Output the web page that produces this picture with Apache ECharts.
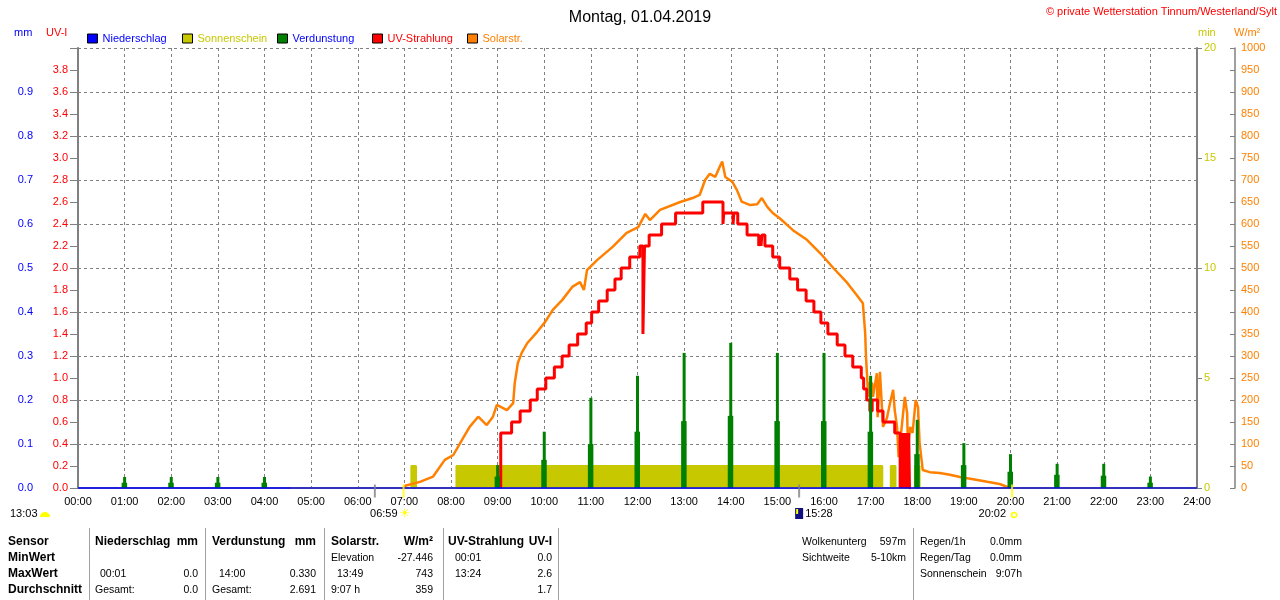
<!DOCTYPE html>
<html lang="de">
<head>
<meta charset="UTF-8">
<title>Wetterstation Tinnum - Montag, 01.04.2019</title>
<script src="https://cdn.jsdelivr.net/npm/echarts@6.0.0/dist/echarts.min.js"></script>
<style>
    html, body { margin: 0; padding: 0; background: #ffffff; }
    #chart { width: 1280px; height: 600px; }
</style>
</head>
<body>
<div id="chart"></div>
<script>
    // all times in minutes after midnight
    var rainTimes = [0, 1440];
    var rainValues = [0, 0];

    // Sonnenschein (min per minute), blocks
    var sunTimes = [274, 429, 429, 435, 435, 487, 487, 1035, 1035, 1046, 1046, 1052, 1052, 1063, 1063, 1067, 1067, 1077, 1077, 1083, 1083, 1440];
    var sunValues = [0, 0, 1, 1, 0, 0, 1, 1, 0, 0, 1, 1, 0, 0, 1, 1, 0, 0, 1, 1, 0, 0];

    // Verdunstung (mm), hourly spikes: peak and shoulder
    var evapHours = [1, 2, 3, 4, 9, 10, 11, 12, 13, 14, 15, 16, 17, 18, 19, 20, 21, 22, 23];
    var evapPeak = [0.025, 0.025, 0.025, 0.025, 0.052, 0.128, 0.205, 0.255, 0.307, 0.330, 0.307, 0.307, 0.255, 0.155, 0.102, 0.077, 0.055, 0.055, 0.026];
    var evapSide = [0.012, 0.012, 0.012, 0.012, 0.026, 0.064, 0.100, 0.128, 0.152, 0.164, 0.152, 0.152, 0.128, 0.077, 0.052, 0.037, 0.030, 0.028, 0.012];

    // UV-Strahlung (UV-I), step values
    var uvTimes = [544, 544, 558, 569, 582, 591, 602, 613, 623, 632, 643, 654, 661, 670, 681, 691, 699, 710, 723, 727, 728, 729, 735, 751, 769, 804,
        830, 831, 843, 844, 849, 861, 876, 878, 879, 880, 884, 894, 903, 916, 926, 937, 947, 956, 965, 977, 987, 997, 1008, 1011, 1015, 1019,
        1022, 1029, 1036, 1051, 1058, 1059, 1060, 1061, 1062, 1063, 1064, 1065, 1066, 1067, 1068, 1069, 1070, 1071];
    var uvValues = [0, 0.5, 0.6, 0.7, 0.8, 0.9, 1.0, 1.1, 1.2, 1.3, 1.4, 1.5, 1.6, 1.7, 1.8, 1.9, 2.0, 2.1, 2.2, 1.4, 1.8, 2.2, 2.3, 2.4, 2.5, 2.6,
        2.4, 2.5, 2.4, 2.5, 2.4, 2.3, 2.2, 2.3, 2.2, 2.3, 2.2, 2.1, 2.0, 1.9, 1.8, 1.7, 1.6, 1.5, 1.4, 1.3, 1.2, 1.1, 1.0, 0.9, 0.8, 0.7,
        0.8, 0.7, 0.6, 0.5, 0, 0.5, 0, 0.5, 0, 0.5, 0.2, 0.5, 0, 0.5, 0, 0.5, 0, 0];

    // Solarstrahlung (W/m2)
    var solarTimes = [419, 421, 440, 457, 472, 483, 494, 504, 515, 526, 534, 539, 552, 560, 562, 566, 571, 578, 591, 601, 611, 623, 636, 646,
        651, 655, 668, 688, 706, 721, 730, 736, 749, 775, 791, 800, 807, 813, 820, 824, 829, 833, 842, 848, 854, 865, 874, 880, 887, 894,
        903, 920, 938, 955, 972, 990, 1004, 1010, 1013, 1014, 1015, 1017, 1018, 1022, 1023, 1028, 1029, 1032, 1035, 1036, 1041, 1045, 1049,
        1051, 1054, 1056, 1060, 1064, 1067, 1068, 1071, 1074, 1078, 1081, 1083, 1086, 1087, 1096, 1109, 1122, 1135, 1152, 1170, 1186, 1195, 1199];
    var solarValues = [0, 5, 14, 26, 64, 75, 109, 139, 162, 143, 162, 189, 177, 193, 238, 284, 307, 329, 355, 377, 405, 427, 457, 468,
        450, 495, 518, 548, 580, 593, 623, 609, 632, 650, 659, 666, 700, 714, 707, 723, 742, 707, 696, 677, 651, 643, 645, 659, 639, 625,
        613, 586, 564, 534, 500, 466, 434, 420, 352, 300, 268, 207, 238, 238, 207, 261, 161, 264, 170, 139, 159, 193, 223,
        177, 139, 70, 139, 207, 170, 93, 139, 125, 200, 184, 102, 57, 41, 36, 34, 30, 25, 20, 14, 9, 3, 0];

    // sunrise / sunset and other day markers on the time axis
    var eventTimes = [382, 419, 928, 1202];
    var eventColors = ['#808080', '#ffff00', '#808080', '#ffff00'];

    var legendNames = ['Niederschlag', 'Sonnenschein', 'Verdunstung', 'UV-Strahlung', 'Solarstr.'];
    var legendTextColors = ['#0000ff', '#c8c800', '#0000ff', '#ff0000', '#ff8000'];

    var FONT = 'Liberation Sans';
    var GRID = '#808080';

    function pad(n) { return (n < 10 ? '0' : '') + n; }
    function pairs(xs, ys) { return xs.map(function (x, i) { return [x, ys[i]]; }); }

    function txt(x, y, s, opt) {
        opt = opt || {};
        return {
            type: 'text', x: x, y: y, silent: true,
            style: {
                text: s, fill: opt.color || '#000', fontSize: opt.size || 11,
                fontFamily: opt.family || FONT, fontWeight: opt.bold ? 'bold' : 'normal',
                align: opt.align || 'left', verticalAlign: 'middle'
            }
        };
    }

    var chart = echarts.init(document.getElementById('chart'));

    var legends = legendNames.map(function (n, i) {
        return {
            left: 87 + i * 95, top: 33, padding: 0,
            icon: 'rect', itemWidth: 10, itemHeight: 9,
            itemStyle: { borderColor: '#000', borderWidth: 1 },
            selectedMode: false,
            textStyle: { fontSize: 11, fontFamily: FONT },
            data: [{ name: n, textStyle: { color: legendTextColors[i] } }]
        };
    });

    var option = {
        animation: false,
        backgroundColor: '#ffffff',
        textStyle: { fontFamily: FONT },
        title: {
            text: 'Montag, 01.04.2019', left: 'center', top: 5,
            textStyle: { fontSize: 16, fontWeight: 'normal', color: '#000', fontFamily: FONT }
        },
        legend: legends,
        grid: { left: 78, right: 83, top: 48, bottom: 112 },
        xAxis: [
            {
                type: 'value', min: 0, max: 1440, interval: 60, position: 'bottom',
                axisLine: { show: false }, axisTick: { show: false },
                axisLabel: { color: '#000', fontSize: 11, margin: 8, formatter: function (v) { return pad(v / 60) + ':00'; } },
                splitLine: { show: true, lineStyle: { color: GRID, type: [3, 3], width: 1 } }
            },
            {
                type: 'value', min: 0, max: 1440, position: 'top',
                axisLine: { show: true, lineStyle: { color: GRID, width: 2 } },
                axisTick: { show: false }, axisLabel: { show: false }, splitLine: { show: false }
            }
        ],
        yAxis: [
            {
                type: 'value', position: 'left', offset: 38, min: 0, max: 1, interval: 0.1,
                axisLine: { show: true, lineStyle: { color: GRID, width: 1 } },
                axisTick: { show: true, length: 5, lineStyle: { color: GRID } },
                axisLabel: { color: '#0000ff', fontSize: 11, margin: 7, formatter: function (v) { return v > 0.95 ? '' : v.toFixed(1); } },
                splitLine: { show: true, lineStyle: { color: GRID, type: [3, 3], width: 1 } }
            },
            {
                type: 'value', position: 'left', offset: 0, min: 0, max: 4, interval: 0.2,
                axisLine: { show: true, lineStyle: { color: GRID, width: 2 } },
                axisTick: { show: true, length: 8, lineStyle: { color: GRID } },
                axisLabel: { color: '#ff0000', fontSize: 11, margin: 10, formatter: function (v) { return v > 3.9 ? '' : v.toFixed(1); } },
                splitLine: { show: false }
            },
            {
                type: 'value', position: 'right', offset: 0, min: 0, max: 20, interval: 5,
                axisLine: { show: true, lineStyle: { color: GRID, width: 2 } },
                axisTick: { show: true, length: 5, lineStyle: { color: GRID } },
                axisLabel: { color: '#c8c800', fontSize: 11, margin: 7 },
                splitLine: { show: false }
            },
            {
                type: 'value', position: 'right', offset: 38, min: 0, max: 1000, interval: 50,
                axisLine: { show: true, lineStyle: { color: GRID, width: 1.5 } },
                axisTick: { show: true, inside: true, length: 5, lineStyle: { color: GRID } },
                axisLabel: { color: '#ff8000', fontSize: 11, margin: 6, formatter: function (v) { return String(v); } },
                splitLine: { show: false }
            }
        ],
        series: [
            {
                name: 'Sonnenschein', type: 'line', yAxisIndex: 2, data: pairs(sunTimes, sunValues),
                symbol: 'none', clip: false, z: 2, silent: true,
                lineStyle: { color: '#c8c800', width: 2 }, itemStyle: { color: '#c8c800' },
                areaStyle: { color: '#c8c800', opacity: 1 }
            },
            {
                name: 'Solarstr.', type: 'line', yAxisIndex: 3, data: pairs(solarTimes, solarValues),
                symbol: 'none', z: 3, silent: true,
                lineStyle: { color: '#ff8000', width: 2.5 }, itemStyle: { color: '#ff8000' }
            },
            {
                name: 'UV-Strahlung', type: 'line', yAxisIndex: 1, step: 'end', data: pairs(uvTimes, uvValues),
                symbol: 'none', z: 4, silent: true,
                lineStyle: { color: '#ff0000', width: 3 }, itemStyle: { color: '#ff0000' }
            },
            {
                name: 'Verdunstung', type: 'custom', yAxisIndex: 0, z: 5, silent: true,
                itemStyle: { color: '#008000' },
                encode: { x: 0, y: 1 },
                data: evapHours.map(function (h, i) { return [h * 60, evapPeak[i], evapSide[i]]; }),
                renderItem: function (params, api) {
                    var base = api.coord([api.value(0), 0]);
                    var top = api.coord([api.value(0), api.value(1)]);
                    var side = api.coord([api.value(0), api.value(2)]);
                    var c = api.visual('color');
                    return {
                        type: 'group', children: [
                            { type: 'rect', shape: { x: base[0] - 3, y: side[1], width: 5.5, height: base[1] - side[1] }, style: { fill: c } },
                            { type: 'rect', shape: { x: base[0] - 1.5, y: top[1], width: 3, height: base[1] - top[1] }, style: { fill: c } }
                        ]
                    };
                }
            },
            {
                name: 'Niederschlag', type: 'line', yAxisIndex: 0, data: pairs(rainTimes, rainValues),
                symbol: 'none', clip: false, z: 6, silent: true,
                lineStyle: { color: '#0000ff', width: 1.5 }, itemStyle: { color: '#0000ff' }
            },
            {
                name: 'Ereignisse', type: 'scatter', yAxisIndex: 0, symbol: 'rect', symbolSize: [2, 13], symbolOffset: [0, 3],
                clip: false, silent: true, z: 7,
                data: eventTimes.map(function (t, i) { return { value: [t, 0], itemStyle: { color: eventColors[i] } }; })
            }
        ]
    };
    chart.setOption(option);

    // annotations and summary table below the chart
    function px(t) { return chart.convertToPixel({ xAxisIndex: 0 }, t); }
    var g = [];

    g.push(txt(1277, 12, '\u00a9 private Wetterstation Tinnum/Westerland/Sylt', { color: '#ff0000', align: 'right' }));
    g.push(txt(14, 33, 'mm', { color: '#0000ff' }));
    g.push(txt(46, 33, 'UV-I', { color: '#ff0000' }));
    g.push(txt(1198, 33, 'min', { color: '#c8c800' }));
    g.push(txt(1234, 33, 'W/m\u00b2', { color: '#ff8000' }));

    // day length, sunrise, marker, sunset
    g.push(txt(10, 514, '13:03'));
    g.push({ type: 'sector', silent: true, shape: { cx: 45, cy: 517, r0: 0, r: 5, startAngle: Math.PI, endAngle: Math.PI * 2 }, style: { fill: '#ffff00' } });
    var xRise = px(eventTimes[1]);
    g.push(txt(xRise - 6, 514, '06:59', { align: 'right' }));
    g.push(txt(xRise + 1, 514, '\u2600', { color: '#ffff00', align: 'center', family: 'DejaVu Sans', size: 12 }));
    var xMark = px(eventTimes[2]);
    g.push({ type: 'rect', silent: true, shape: { x: xMark - 4, y: 508, width: 8, height: 11 }, style: { fill: '#101080' } });
    g.push({ type: 'rect', silent: true, shape: { x: xMark - 3, y: 509, width: 2, height: 5 }, style: { fill: '#ffff00' } });
    g.push(txt(xMark + 6, 514, '15:28'));
    var xSet = px(eventTimes[3]);
    g.push(txt(xSet - 6, 514, '20:02', { align: 'right' }));
    g.push({ type: 'circle', silent: true, shape: { cx: xSet + 2, cy: 515, r: 2.5 }, style: { fill: 'none', stroke: '#ffff00', lineWidth: 1.5 } });

    // table
    var rows = [542, 558, 574, 590];
    var sensorCol = ['Sensor', 'MinWert', 'MaxWert', 'Durchschnitt'];
    sensorCol.forEach(function (s, i) { g.push(txt(8, rows[i], s, { bold: true, size: 12 })); });

    var cells = [
        [95, 0, 'Niederschlag', 'left', true], [198, 0, 'mm', 'right', true],
        [100, 2, '00:01', 'left'], [198, 2, '0.0', 'right'],
        [95, 3, 'Gesamt:', 'left'], [198, 3, '0.0', 'right'],
        [212, 0, 'Verdunstung', 'left', true], [316, 0, 'mm', 'right', true],
        [219, 2, '14:00', 'left'], [316, 2, '0.330', 'right'],
        [212, 3, 'Gesamt:', 'left'], [316, 3, '2.691', 'right'],
        [331, 0, 'Solarstr.', 'left', true], [433, 0, 'W/m\u00b2', 'right', true],
        [331, 1, 'Elevation', 'left'], [433, 1, '-27.446', 'right'],
        [337, 2, '13:49', 'left'], [433, 2, '743', 'right'],
        [331, 3, '9:07 h', 'left'], [433, 3, '359', 'right'],
        [448, 0, 'UV-Strahlung', 'left', true], [552, 0, 'UV-I', 'right', true],
        [455, 1, '00:01', 'left'], [552, 1, '0.0', 'right'],
        [455, 2, '13:24', 'left'], [552, 2, '2.6', 'right'],
        [552, 3, '1.7', 'right'],
        [802, 0, 'Wolkenunterg', 'left'], [906, 0, '597m', 'right'],
        [802, 1, 'Sichtweite', 'left'], [906, 1, '5-10km', 'right'],
        [920, 0, 'Regen/1h', 'left'], [1022, 0, '0.0mm', 'right'],
        [920, 1, 'Regen/Tag', 'left'], [1022, 1, '0.0mm', 'right'],
        [920, 2, 'Sonnenschein', 'left'], [1022, 2, '9:07h', 'right']
    ];
    cells.forEach(function (c) {
        g.push(txt(c[0], rows[c[1]], c[2], { align: c[3], bold: !!c[4], size: c[4] ? 12 : 10.5 }));
    });

    [89, 205, 324, 443, 558, 913].forEach(function (x) {
        g.push({ type: 'line', silent: true, shape: { x1: x + 0.5, y1: 528, x2: x + 0.5, y2: 600 }, style: { stroke: '#a0a0a0', lineWidth: 1 } });
    });

    chart.setOption({ graphic: { elements: g } });
</script>
</body>
</html>
